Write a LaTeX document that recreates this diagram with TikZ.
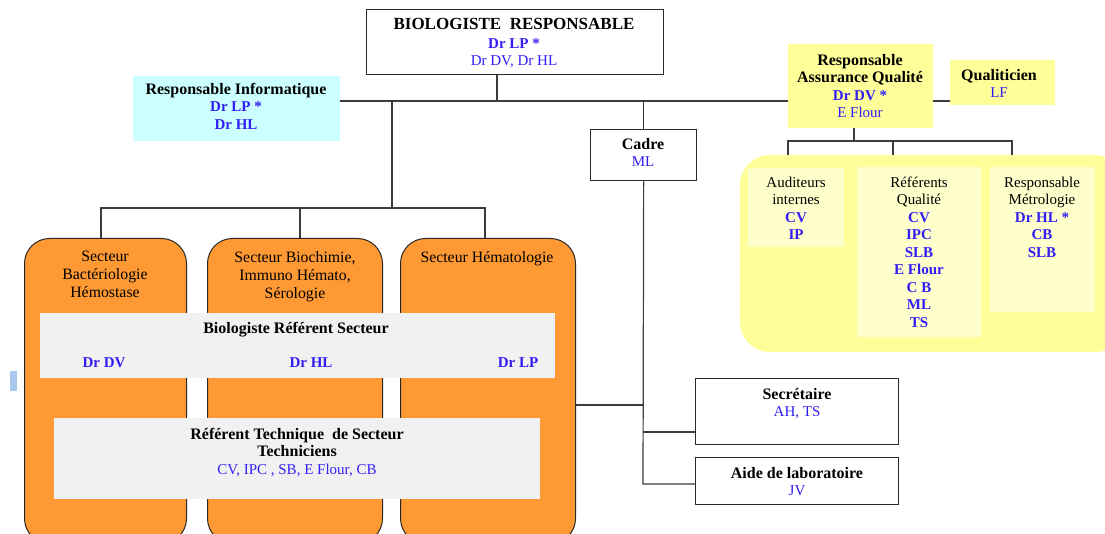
\documentclass[tikz,border=0pt]{standalone}
\usepackage{fontspec}
\setmainfont{Liberation Serif}

\definecolor{ink}{RGB}{50,30,245}
\definecolor{edge}{RGB}{40,40,40}
\definecolor{wire}{RGB}{60,60,60}
\definecolor{orangefill}{RGB}{255,153,51}
\definecolor{cyanfill}{RGB}{204,255,255}
\definecolor{yellowfill}{RGB}{255,255,153}
\definecolor{paleyellow}{RGB}{255,255,204}
\definecolor{greyfill}{RGB}{241,241,241}
\definecolor{markblue}{RGB}{168,200,236}

% text helpers
\newcommand\headtxt[1]{{\fontsize{16}{17.5}\selectfont\bfseries #1}}
\newcommand\person[1]{{\color{ink}#1}}
\newcommand\personb[1]{{\color{ink}\bfseries #1}}

\begin{document}
\begin{tikzpicture}[x=1pt,y=-1pt,
  plainbox/.style={draw=edge, line width=1.3pt, fill=white, anchor=north west, inner sep=0pt},
  flatbox/.style={draw=none, anchor=north west, inner sep=0pt},
  sectorbox/.style={draw=edge, line width=1pt, fill=orangefill, rounded corners=25pt},
  link/.style={draw=wire, line width=1.2pt},
  txt/.style={anchor=north, inner sep=0pt, align=center, font=\fontsize{15}{17.5}\selectfont},
  sectortxt/.style={txt, font=\fontsize{15.8}{18}\selectfont},
]
\useasboundingbox (0,0) rectangle (1105,534);
\clip (0,0) rectangle (1105,534);

% ---------- top management ----------
\node[plainbox, minimum width=297pt, minimum height=65pt] (bio) at (366,9) {};
\node[flatbox, fill=cyanfill, minimum width=207pt, minimum height=65pt] (info) at (133,76) {};
\node[flatbox, fill=yellowfill, minimum width=145pt, minimum height=84pt] (raq) at (788,44) {};
\node[flatbox, fill=yellowfill, minimum width=105pt, minimum height=45pt] (qual) at (950,60) {};
\node[plainbox, minimum width=106pt, minimum height=51pt] (cadre) at (590,129) {};

% ---------- quality panel ----------
\path[fill=yellowfill, rounded corners=30pt] (740,155) rectangle (1125,352);
\node[flatbox, fill=paleyellow, minimum width=96pt, minimum height=79pt] (aud) at (748,168) {};
\node[flatbox, fill=paleyellow, minimum width=124pt, minimum height=170pt] (refq) at (857,167) {};
\node[flatbox, fill=paleyellow, minimum width=105pt, minimum height=145pt] (metro) at (990,167) {};
\coordinate (panel) at (920,155);

% ---------- sectors ----------
\node[sectorbox, anchor=north west, minimum width=162pt, minimum height=305pt] (sec1) at (24,238) {};
\node[sectorbox, anchor=north west, minimum width=175pt, minimum height=305pt] (sec2) at (207,238) {};
\node[sectorbox, anchor=north west, minimum width=175pt, minimum height=305pt] (sec3) at (400,238) {};
\node[flatbox, fill=greyfill, minimum width=515pt, minimum height=65pt] (grey1) at (40,313) {};
\node[flatbox, fill=greyfill, minimum width=486pt, minimum height=81pt] (grey2) at (54,418) {};
\node[flatbox, fill=markblue, minimum width=7pt, minimum height=20pt] (mark) at (10,371) {};

% ---------- support staff ----------
\node[plainbox, minimum width=203pt, minimum height=66pt] (secr) at (695,378) {};
\node[plainbox, minimum width=203pt, minimum height=47pt] (aide) at (695,457) {};

% ---------- connectors ----------
\coordinate (hub) at (497,101);
\coordinate (sbus) at (392,208);
\coordinate (d1) at (101,208);
\coordinate (d2) at (300,208);
\coordinate (d3) at (485,208);
\coordinate (qhub) at (854,141);
\coordinate (q1) at (788,141);
\coordinate (q2) at (893,141);
\coordinate (q3) at (1012,141);
\coordinate (bsect) at (643,405);
\coordinate (bsec) at (643,432);
\coordinate (baide) at (643,484);

\draw[link] (bio.south -| hub) -- (hub);
\draw[link] (hub -| info.east) -- (hub -| raq.west);
\draw[link] (hub -| raq.east) -- (hub -| qual.west);
\draw[link] (hub -| sbus) -- (sbus);
\draw[link] (d1 |- sec1.north) -- (d1) -- (d3) -- (d3 |- sec3.north);
\draw[link] (d2) -- (d2 |- sec2.north);
\draw[link] (hub -| cadre.north) -- (cadre.north);
\draw[link] (cadre.south) -- (baide) -- (baide -| aide.west);
\draw[link] (bsec) -- (bsec -| secr.west);
\draw[link] (bsect -| sec3.east) -- (bsect);
\draw[link] (qhub |- raq.south) -- (qhub);
\draw[link] (q1 |- panel) -- (q1) -- (q3) -- (q3 |- panel);
\draw[link] (q2) -- (q2 |- panel);

% ---------- texts ----------
\node[txt] (bio-t) at (514,18)
  {{\fontsize{17}{19}\selectfont\bfseries BIOLOGISTE\ \ RESPONSABLE}\\[1.5pt]
   \personb{Dr LP *}\\ \person{Dr DV, Dr HL}};
\node[txt] (info-t) at (236,83)
  {\headtxt{Responsable Informatique}\\ \personb{Dr LP *}\\ \personb{Dr HL}};
\node[txt] (raq-t) at (860,54)
  {\headtxt{Responsable}\\ \headtxt{Assurance Qualité}\\ \personb{Dr DV *}\\ \person{E Flour}};
\node[txt] (qual-t) at (999,69)
  {\headtxt{Qualiticien}\\ \person{LF}};
\node[txt] (cadre-t) at (643,138)
  {\headtxt{Cadre}\\ \person{ML}};

\node[txt] (aud-t) at (796,176.5)
  {Auditeurs\\ internes\\ \personb{CV}\\ \personb{IP}};
\node[txt] (refq-t) at (919,176.5)
  {Référents\\ Qualité\\ \personb{CV}\\ \personb{IPC}\\ \personb{SLB}\\ \personb{E Flour}\\
   \personb{C B}\\ \personb{ML}\\ \personb{TS}};
\node[txt] (metro-t) at (1042,176.5)
  {Responsable\\ Métrologie\\ \personb{Dr HL *}\\ \personb{CB}\\ \personb{SLB}};

\node[sectortxt] (sec1-t) at (105,251) {Secteur\\ Bactériologie\\ Hémostase};
\node[sectortxt] (sec2-t) at (295,251) {Secteur Biochimie,\\ Immuno Hémato,\\ Sérologie};
\node[sectortxt] (sec3-t) at (487,251) {Secteur Hématologie};

\node[txt] (grey1-t) at (296,322) {\headtxt{Biologiste Référent Secteur}};
\node[txt] (dv-t) at (104,357) {\personb{Dr DV}};
\node[txt] (hl-t) at (311,357) {\personb{Dr HL}};
\node[txt] (lp-t) at (518,357) {\personb{Dr LP}};
\node[txt] (grey2-t) at (297,428)
  {\headtxt{Référent Technique\ \ de Secteur}\\ \headtxt{Techniciens}\\
   \person{CV, IPC , SB, E Flour, CB}};

\node[txt] (secr-t) at (797,388) {\headtxt{Secrétaire}\\ \person{AH, TS}};
\node[txt] (aide-t) at (797,467) {\headtxt{Aide de laboratoire}\\ \person{JV}};
\end{tikzpicture}
\end{document}
